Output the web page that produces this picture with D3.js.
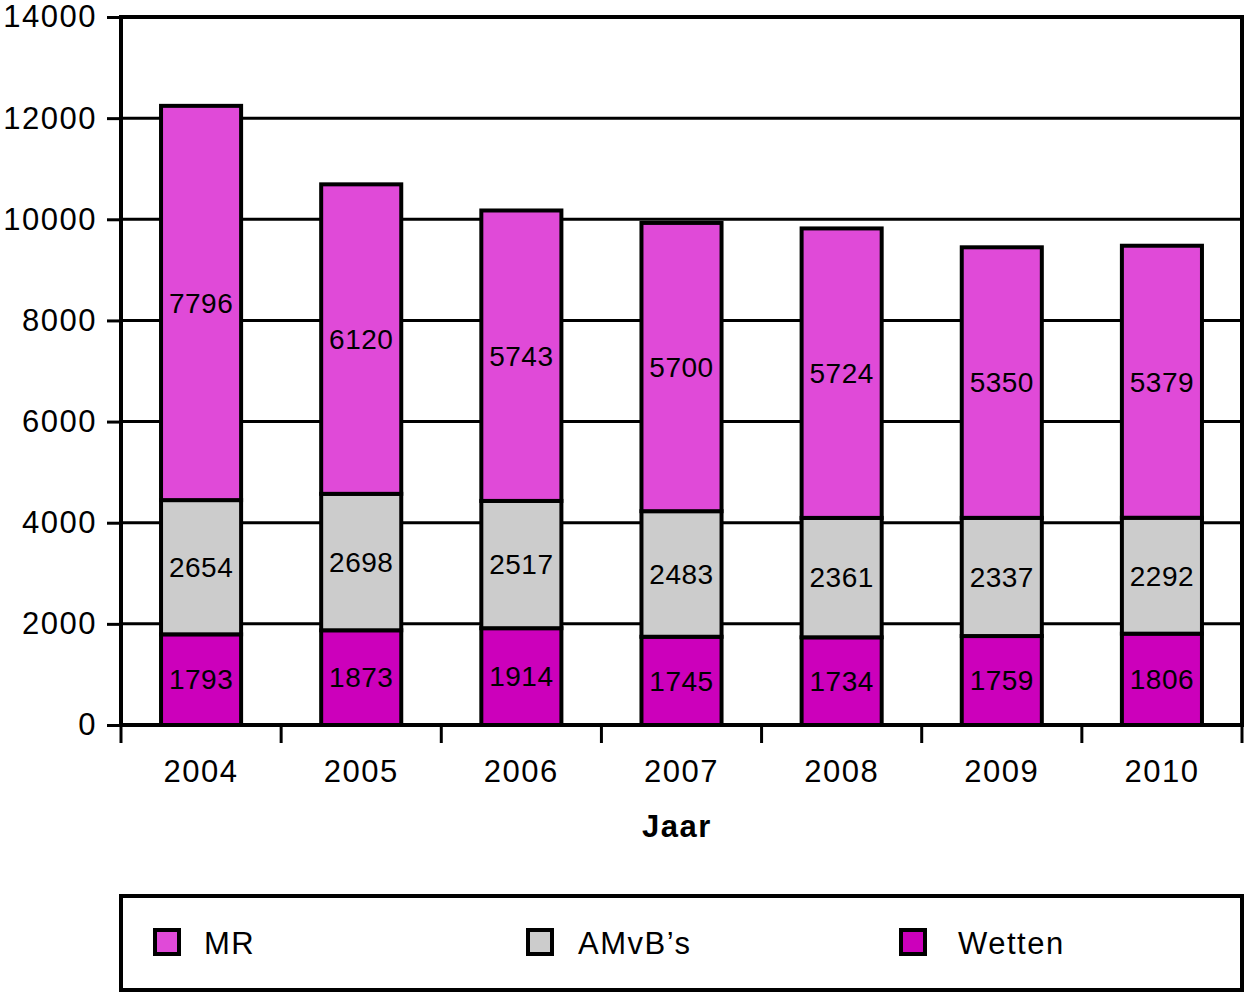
<!DOCTYPE html>
<html>
<head>
<meta charset="utf-8">
<script src="https://cdn.jsdelivr.net/npm/d3@7"></script>
<style>
  body { margin: 0; background: #fff; }
  svg text { font-family: "Liberation Sans", Arial, sans-serif; fill: #000; }
</style>
</head>
<body>
<svg id="chart" width="1244" height="993"></svg>
<script>
const years = ['2004', '2005', '2006', '2007', '2008', '2009', '2010'];
const wetten = [1793, 1873, 1914, 1745, 1734, 1759, 1806];
const amvbs = [2654, 2698, 2517, 2483, 2361, 2337, 2292];
const mr = [7796, 6120, 5743, 5700, 5724, 5350, 5379];
const yTicks = [0, 2000, 4000, 6000, 8000, 10000, 12000, 14000];

const seriesNames = ['Wetten', "AMvB\u2019s", 'MR'];
const seriesColors = ['#cc00bb', '#cccccc', '#e04ad8'];

const svg = d3.select('#chart');
const plotLeft = 121, plotRight = 1242, plotTop = 17, plotBottom = 725;

const x = d3.scaleBand().domain(years).range([plotLeft, plotRight]).paddingInner(0.5).paddingOuter(0.25);
const y = d3.scaleLinear().domain([0, 14000]).range([plotBottom, plotTop]);

// stack the three series per year
const rows = years.map((yr, i) => ({ year: yr, Wetten: wetten[i], "AMvB\u2019s": amvbs[i], MR: mr[i] }));
const stacked = d3.stack().keys(seriesNames)(rows);

// gridlines
svg.append('g').selectAll('line')
  .data(yTicks.filter(d => d > 0))
  .join('line')
  .attr('x1', plotLeft).attr('x2', plotRight)
  .attr('y1', d => y(d)).attr('y2', d => y(d))
  .attr('stroke', '#000').attr('stroke-width', 3);

// bars
const layers = svg.append('g').selectAll('g')
  .data(stacked)
  .join('g')
  .attr('fill', (d, i) => seriesColors[i]);

layers.selectAll('rect')
  .data(d => d)
  .join('rect')
  .attr('x', d => x(d.data.year))
  .attr('width', x.bandwidth())
  .attr('y', d => y(d[1]))
  .attr('height', d => y(d[0]) - y(d[1]))
  .attr('stroke', '#000').attr('stroke-width', 4);

// value labels
layers.selectAll('text')
  .data(d => d)
  .join('text')
  .attr('x', d => x(d.data.year) + x.bandwidth() / 2)
  .attr('y', d => y((d[0] + d[1]) / 2))
  .attr('dy', '0.35em')
  .attr('text-anchor', 'middle')
  .attr('font-size', 28)
  .attr('letter-spacing', 0.5)
  .attr('fill', '#000')
  .text(d => d[1] - d[0]);

// plot frame
svg.append('rect')
  .attr('x', plotLeft).attr('y', plotTop)
  .attr('width', plotRight - plotLeft).attr('height', plotBottom - plotTop)
  .attr('fill', 'none').attr('stroke', '#000').attr('stroke-width', 4);

// y axis
const yAxis = d3.axisLeft(y).tickValues(yTicks).tickSize(14).tickPadding(10).tickFormat(d3.format('d'));
svg.append('g')
  .attr('transform', `translate(${plotLeft} 0)`)
  .call(yAxis)
  .call(g => g.select('.domain').remove())
  .call(g => g.selectAll('line').attr('stroke-width', 3))
  .call(g => g.selectAll('text').attr('font-size', 31).attr('letter-spacing', 1.5)
    .attr('font-family', '"Liberation Sans", Arial, sans-serif'));

// x axis: ticks between categories
const xTickPos = d3.range(years.length + 1).map(i => plotLeft + i * (plotRight - plotLeft) / years.length);
svg.append('g').selectAll('line')
  .data(xTickPos)
  .join('line')
  .attr('x1', d => d).attr('x2', d => d)
  .attr('y1', plotBottom).attr('y2', plotBottom + 18)
  .attr('stroke', '#000').attr('stroke-width', 3);

svg.append('g').selectAll('text')
  .data(years)
  .join('text')
  .attr('x', d => x(d) + x.bandwidth() / 2)
  .attr('y', 782)
  .attr('text-anchor', 'middle')
  .attr('font-size', 31)
  .attr('letter-spacing', 1.5)
  .text(d => d);

svg.append('text')
  .attr('x', 677)
  .attr('y', 837)
  .attr('text-anchor', 'middle')
  .attr('font-size', 31)
  .attr('font-weight', 'bold')
  .attr('letter-spacing', 1.5)
  .text('Jaar');

// legend
svg.append('rect')
  .attr('x', 121).attr('y', 896)
  .attr('width', 1121).attr('height', 94)
  .attr('fill', 'none').attr('stroke', '#000').attr('stroke-width', 4);

const legendOrder = [2, 1, 0];
const legendX = [155, 528, 901];
const legendTextOffset = [49, 50, 57];
const lg = svg.append('g').selectAll('g')
  .data(legendOrder)
  .join('g')
  .attr('transform', (d, i) => `translate(${legendX[i]} 930)`);
lg.append('rect')
  .attr('width', 24).attr('height', 24)
  .attr('fill', d => seriesColors[d])
  .attr('stroke', '#000').attr('stroke-width', 4);
lg.append('text')
  .attr('x', (d, i) => legendTextOffset[i]).attr('y', 13)
  .attr('dy', '0.35em')
  .attr('font-size', 31)
  .attr('letter-spacing', 1.5)
  .text(d => seriesNames[d]);
</script>
</body>
</html>
